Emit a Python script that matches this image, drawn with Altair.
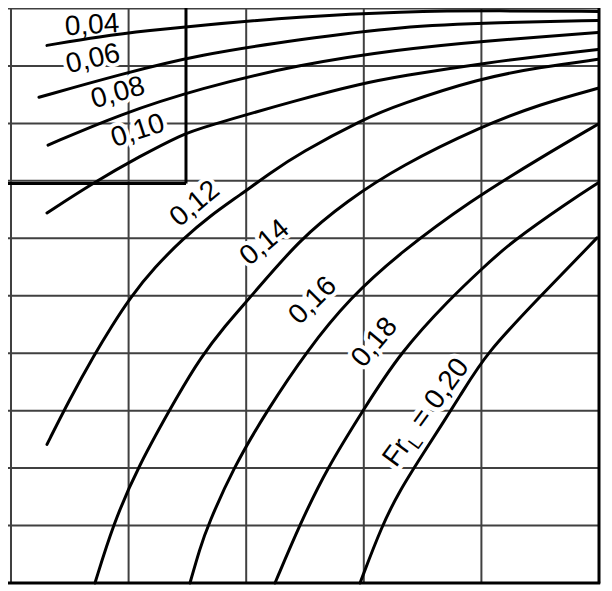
import altair as alt
import pandas as pd

# ---- curve data (grid units: x 0..5 columns, y 0..10 rows, y up) ----
levels = ["0,04", "0,06", "0,08", "0,10", "0,12", "0,14", "0,16", "0,18", "0,20"]

x_004 = [0.306, 0.757, 1.182, 1.607, 2.457, 3.308, 4.158, 4.991]
y_004 = [9.358, 9.514, 9.618, 9.705, 9.861, 9.948, 9.965, 9.948]

x_006 = [0.238, 0.927, 1.607, 2.457, 3.308, 4.158, 4.991]
y_006 = [8.455, 8.854, 9.201, 9.462, 9.688, 9.757, 9.792]

x_008 = [0.315, 0.927, 1.607, 2.457, 3.308, 3.988, 4.991]
y_008 = [7.622, 8.160, 8.611, 9.028, 9.288, 9.427, 9.583]

x_010 = [0.306, 0.697, 1.097, 1.463, 1.607, 2.457, 2.993, 3.308, 3.988, 4.991]
y_010 = [6.441, 6.962, 7.431, 7.813, 7.917, 8.420, 8.698, 8.819, 9.045, 9.288]

x_012 = [0.306, 0.493, 0.714, 0.859, 1.012, 1.224, 1.463, 1.692, 1.947, 2.202, 2.457,
         2.993, 3.308, 3.988, 4.498, 4.991]
y_012 = [2.413, 3.177, 3.993, 4.479, 4.965, 5.503, 5.990, 6.389, 6.753, 7.135, 7.483,
         8.073, 8.333, 8.785, 8.976, 9.115]

x_014 = [0.714, 0.867, 1.071, 1.437, 1.607, 1.820, 2.032, 2.457, 2.857, 3.308, 4.005, 4.498, 4.991]
y_014 = [0.000, 1.007, 1.997, 3.333, 3.906, 4.479, 4.965, 5.990, 6.649, 7.257, 7.951, 8.333, 8.611]

x_016 = [1.522, 1.607, 1.675, 1.888, 2.177, 2.517, 2.883, 3.308, 3.903, 4.498, 4.991]
y_016 = [0.000, 0.608, 1.007, 1.997, 3.003, 4.045, 4.965, 5.747, 6.649, 7.396, 7.986]

x_018 = [2.245, 2.457, 2.687, 2.993, 3.308, 3.733, 4.005, 4.243, 4.753, 4.991]
y_018 = [0.000, 1.024, 1.997, 3.003, 4.010, 4.948, 5.469, 5.920, 6.649, 6.962]

x_020 = [2.968, 3.155, 3.308, 3.478, 3.844, 4.031, 4.498, 4.983]
y_020 = [0.000, 1.007, 1.615, 2.170, 3.333, 3.976, 4.983, 6.007]

# grid
grid_x = [0, 1, 2, 3, 4]
grid_y = [1, 2, 3, 4, 5, 6, 7, 8, 9, 10]
frame_right = 5
frame_bottom = 0
box_right = 1.488
box_bottom = 6.953

# curve labels: text, x, y, angle (0,04 sits on the top edge, drawn without halo)
label_text = ["0,04", "0,06", "0,08", "0,10", "0,12", "0,14", "0,16", "0,18"]
label_x = [0.689, 0.697, 0.910, 1.080, 1.565, 2.160, 2.568, 3.095]
label_y = [9.700, 9.115, 8.524, 7.865, 6.597, 5.920, 4.913, 4.184]
label_angle = [356, 347, 344, 342, 320, 320, 315, 310]
label_halo = [0, 1, 1, 1, 1, 1, 1, 1]

fr_x = 3.274
fr_y = 1.997
fr_angle = 306

FONT = "Liberation Sans"
FS = 28
XS = alt.Scale(domain=[-0.0255, 5.0425], nice=False, zero=False)
YS = alt.Scale(domain=[-0.139, 10.0087], nice=False, zero=False)


def X(f):
    return alt.X(f, type="quantitative", scale=XS, axis=None)


def Y(f):
    return alt.Y(f, type="quantitative", scale=YS, axis=None)


# ---- tables ----
series = [(x_004, y_004), (x_006, y_006), (x_008, y_008), (x_010, y_010), (x_012, y_012),
          (x_014, y_014), (x_016, y_016), (x_018, y_018), (x_020, y_020)]
rows = []
for lvl, (xs, ys) in zip(levels, series):
    for i, (a, b) in enumerate(zip(xs, ys)):
        rows.append({"level": lvl, "i": i, "x": a, "y": b})
curves_df = pd.DataFrame(rows)

vgrid_df = pd.DataFrame({"x": grid_x, "y1": [frame_bottom] * len(grid_x), "y2": [10.3] * len(grid_x)})
hgrid_df = pd.DataFrame({"y": grid_y, "x1": [-0.2] * len(grid_y), "x2": [frame_right] * len(grid_y)})
frame_v = pd.DataFrame({"x": [frame_right], "y1": [frame_bottom - 0.01], "y2": [10.3]})
frame_h = pd.DataFrame({"y": [frame_bottom], "x1": [-0.2], "x2": [frame_right + 0.01]})
box_v = pd.DataFrame({"x": [box_right], "y1": [box_bottom], "y2": [10.3]})
box_h = pd.DataFrame({"y": [box_bottom], "x1": [-0.2], "x2": [box_right]})

labels_df = pd.DataFrame({"t": label_text, "x": label_x, "y": label_y, "a": label_angle,
                          "h": label_halo})
fr_df = pd.DataFrame({"x": [fr_x], "y": [fr_y]})

# ---- layers ----
vgrid = alt.Chart(vgrid_df).mark_rule(color="#404040", strokeWidth=2).encode(
    x=X("x"), y=Y("y1"), y2="y2")
hgrid = alt.Chart(hgrid_df).mark_rule(color="#404040", strokeWidth=2).encode(
    y=Y("y"), x=X("x1"), x2="x2")

HALO = 8


def label_layer(halo):
    props = dict(font=FONT, fontSize=FS, align="center", baseline="middle")
    base = alt.Chart(labels_df)
    if halo:
        props.update(color="white", stroke="white", strokeWidth=HALO, strokeJoin="round")
        base = base.transform_filter("datum.h == 1")
    else:
        props.update(color="black")
    return base.mark_text(**props).encode(
        x=X("x"), y=Y("y"), text="t:N", angle=alt.Angle("a:Q", scale=None))


def fr_layers(halo):
    pieces = [("Fr", FS, 0, 0), ("L", 19, 27, 7), ("= 0,20", FS, 47, 0)]
    out = []
    for txt, size, dx, dy in pieces:
        props = dict(font=FONT, fontSize=size, align="left", baseline="alphabetic",
                     angle=fr_angle, dx=dx, dy=dy, text=txt)
        if halo:
            props.update(color="white", stroke="white", strokeWidth=HALO + 2, strokeJoin="round")
        else:
            props.update(color="black")
        out.append(alt.Chart(fr_df).mark_text(**props).encode(x=X("x"), y=Y("y")))
    return out


frame1 = alt.Chart(frame_v).mark_rule(color="black", strokeWidth=3).encode(x=X("x"), y=Y("y1"), y2="y2")
frame2 = alt.Chart(frame_h).mark_rule(color="black", strokeWidth=3).encode(y=Y("y"), x=X("x1"), x2="x2")
box1 = alt.Chart(box_v).mark_rule(color="black", strokeWidth=3).encode(x=X("x"), y=Y("y1"), y2="y2")
box2 = alt.Chart(box_h).mark_rule(color="black", strokeWidth=3).encode(y=Y("y"), x=X("x1"), x2="x2")

lines = alt.Chart(curves_df).mark_line(
    color="black", strokeWidth=3, strokeCap="round", strokeJoin="round", interpolate="basis"
).encode(x=X("x"), y=Y("y"), detail="level:N", order="i:Q")

layers = [vgrid, hgrid, frame1, frame2, label_layer(True)] + fr_layers(True) + \
         [box1, box2, lines, label_layer(False)] + fr_layers(False)

chart = alt.layer(*layers).properties(
    width=596, height=583, padding=0, autosize=alt.AutoSizeParams(type="none")
).configure_view(stroke=None)

chart.save("out.html", embed_options={"renderer": "svg", "actions": False})
